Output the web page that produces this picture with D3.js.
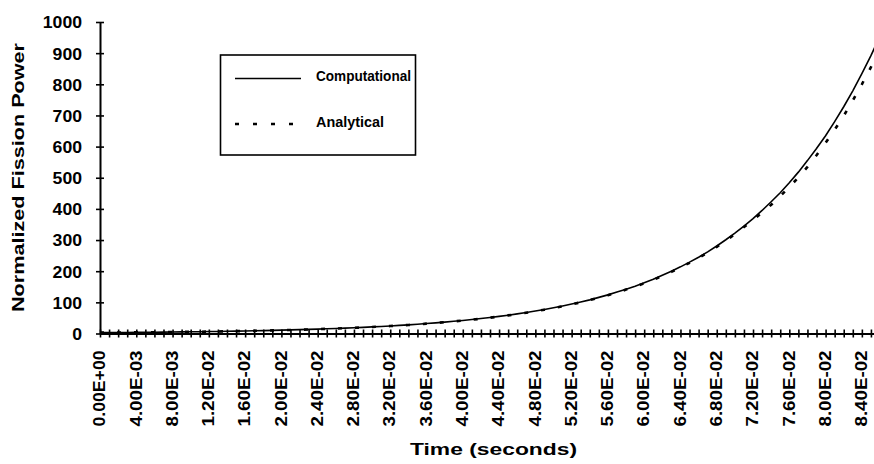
<!DOCTYPE html>
<html>
<head>
<meta charset="utf-8">
<script src="https://cdn.jsdelivr.net/npm/d3@7"></script>
<style>
  body { margin: 0; background: #fff; }
  svg { display: block; font-family: 'Liberation Sans', Arial, sans-serif; font-weight: bold; }
</style>
</head>
<body>
<svg id="chart" width="874" height="464"></svg>
<script>
'use strict';

// one category per millisecond (seconds)
const timeSec = [
    0.000, 0.001, 0.002, 0.003, 0.004, 0.005, 0.006, 0.007, 0.008, 0.009,
    0.010, 0.011, 0.012, 0.013, 0.014, 0.015, 0.016, 0.017, 0.018, 0.019,
    0.020, 0.021, 0.022, 0.023, 0.024, 0.025, 0.026, 0.027, 0.028, 0.029,
    0.030, 0.031, 0.032, 0.033, 0.034, 0.035, 0.036, 0.037, 0.038, 0.039,
    0.040, 0.041, 0.042, 0.043, 0.044, 0.045, 0.046, 0.047, 0.048, 0.049,
    0.050, 0.051, 0.052, 0.053, 0.054, 0.055, 0.056, 0.057, 0.058, 0.059,
    0.060, 0.061, 0.062, 0.063, 0.064, 0.065, 0.066, 0.067, 0.068, 0.069,
    0.070, 0.071, 0.072, 0.073, 0.074, 0.075, 0.076, 0.077, 0.078, 0.079,
    0.080, 0.081, 0.082, 0.083, 0.084, 0.085, 0.086
];

const computational = [
    2.8, 3.0, 3.2, 3.4, 3.7, 3.9, 4.2, 4.5, 4.8, 5.1,
    5.4, 5.8, 6.2, 6.6, 7.1, 7.6, 8.1, 8.7, 9.3, 10.0,
    10.7, 11.5, 12.3, 13.1, 14.1, 15.1, 16.2, 17.3, 18.5, 19.8,
    21.2, 22.7, 24.3, 26.0, 27.8, 29.8, 31.9, 34.1, 36.5, 39.1,
    41.8, 44.7, 47.9, 51.3, 54.9, 58.8, 62.9, 67.4, 72.1, 77.2,
    82.6, 88.4, 94.6, 101, 108, 116, 124, 133, 142, 152,
    163, 174, 187, 200, 214, 229, 245, 262, 281, 301,
    322, 345, 369, 395, 423, 452, 484, 518, 555, 594,
    635, 680, 728, 779, 834, 892, 955
];

const analytical = [
    2.8, 3.0, 3.2, 3.4, 3.6, 3.9, 4.1, 4.4, 4.7, 5.0,
    5.4, 5.7, 6.1, 6.6, 7.0, 7.5, 8.0, 8.6, 9.2, 9.9,
    10.6, 11.4, 12.2, 13.0, 13.9, 14.9, 16.0, 17.1, 18.3, 19.6,
    21.0, 22.5, 24.0, 25.7, 27.5, 29.5, 31.6, 33.8, 36.1, 38.7,
    41.4, 44.3, 47.4, 50.8, 54.4, 58.2, 62.3, 66.7, 71.4, 76.4,
    81.8, 87.5, 93.7, 100, 107, 115, 123, 131, 141, 151,
    161, 172, 185, 198, 212, 227, 243, 260, 278, 298,
    319, 342, 364, 388, 413, 441, 470, 501, 535, 572,
    612, 654, 699, 748, 800, 855, 914
];

const yTicks = [0, 100, 200, 300, 400, 500, 600, 700, 800, 900, 1000];

const xLabelTimes = [
    0.000, 0.004, 0.008, 0.012, 0.016, 0.020, 0.024, 0.028, 0.032, 0.036, 0.040,
    0.044, 0.048, 0.052, 0.056, 0.060, 0.064, 0.068, 0.072, 0.076, 0.080, 0.084
];
const xLabels = [
    '0.00E+00', '4.00E-03', '8.00E-03', '1.20E-02', '1.60E-02', '2.00E-02',
    '2.40E-02', '2.80E-02', '3.20E-02', '3.60E-02', '4.00E-02', '4.40E-02',
    '4.80E-02', '5.20E-02', '5.60E-02', '6.00E-02', '6.40E-02', '6.80E-02',
    '7.20E-02', '7.60E-02', '8.00E-02', '8.40E-02'
];

const seriesNames = ['Computational', 'Analytical'];

const svg = d3.select('#chart');
const fontFamily = "'Liberation Sans', Arial, sans-serif";

const x = d3.scaleLinear().domain([0, 0.086]).range([100, 880]);
const y = d3.scaleLinear().domain([0, 1000]).range([333.5, 22]);

// x axis: cross ticks on every category
let xAxis = svg.append('g')
    .attr('transform', 'translate(0,' + y(0) + ')')
    .call(d3.axisBottom(x).tickValues(timeSec).tickSizeInner(4).tickSizeOuter(0).tickFormat(''));
xAxis.select('.domain').attr('stroke', '#000').attr('stroke-width', 2.2);
xAxis.selectAll('.tick line').attr('y1', -4).attr('y2', 4).attr('stroke', '#000').attr('stroke-width', 1.6);

// x labels, rotated, every 4th category
let xLab = svg.append('g')
    .attr('transform', 'translate(0,' + y(0) + ')')
    .call(d3.axisBottom(x).tickValues(xLabelTimes).tickSize(0)
        .tickFormat(function(d, i) { return xLabels[i]; }));
xLab.select('.domain').remove();
xLab.selectAll('.tick text')
    .attr('transform', 'rotate(-90)')
    .attr('text-anchor', 'end')
    .attr('x', -17)
    .attr('y', -1)
    .attr('dy', '0.36em')
    .attr('font-size', 16)
    .attr('font-family', fontFamily)
    .attr('font-weight', 'bold')
    .attr('fill', '#000')
    .attr('textLength', 76)
    .attr('lengthAdjust', 'spacingAndGlyphs');

// y axis
let yAxis = svg.append('g')
    .attr('transform', 'translate(' + x(0) + ',0)')
    .call(d3.axisLeft(y).tickValues(yTicks).tickSizeInner(4).tickSizeOuter(0).tickFormat(d3.format('d')));
yAxis.select('.domain').attr('stroke', '#000').attr('stroke-width', 2);
yAxis.selectAll('.tick line').attr('x1', -4).attr('x2', 4).attr('stroke', '#000').attr('stroke-width', 1.6);
yAxis.selectAll('.tick text')
    .attr('x', -18)
    .attr('dy', '0.37em')
    .attr('font-size', 16)
    .attr('font-family', fontFamily)
    .attr('font-weight', 'bold')
    .attr('fill', '#000')
    .attr('textLength', function(d) { return String(d).length * 9.8; })
    .attr('lengthAdjust', 'spacingAndGlyphs');

// series
let line = d3.line()
    .x(function(d, i) { return x(timeSec[i]); })
    .y(function(d) { return y(d); });

svg.append('path')
    .datum(analytical)
    .attr('fill', 'none')
    .attr('stroke', '#000')
    .attr('stroke-width', 2.6)
    .attr('stroke-dasharray', '4 13')
    .attr('d', line);

svg.append('path')
    .datum(computational)
    .attr('fill', 'none')
    .attr('stroke', '#000')
    .attr('stroke-width', 1.6)
    .attr('d', line);

// axis titles
svg.append('text')
    .attr('transform', 'translate(24,177.5) rotate(-90)')
    .attr('text-anchor', 'middle')
    .attr('font-size', 17)
    .attr('textLength', 269)
    .attr('lengthAdjust', 'spacingAndGlyphs')
    .text('Normalized Fission Power');

svg.append('text')
    .attr('x', 493.5)
    .attr('y', 455)
    .attr('text-anchor', 'middle')
    .attr('font-size', 17)
    .attr('textLength', 167)
    .attr('lengthAdjust', 'spacingAndGlyphs')
    .text('Time (seconds)');

// legend
let legend = svg.append('g');
legend.append('rect')
    .attr('x', 220.5).attr('y', 55).attr('width', 195).attr('height', 100)
    .attr('fill', '#fff').attr('stroke', '#000').attr('stroke-width', 1.6);
legend.append('line')
    .attr('x1', 235).attr('x2', 301).attr('y1', 78.5).attr('y2', 78.5)
    .attr('stroke', '#000').attr('stroke-width', 1.6);
legend.append('line')
    .attr('x1', 235).attr('x2', 296).attr('y1', 124).attr('y2', 124)
    .attr('stroke', '#000').attr('stroke-width', 2.6).attr('stroke-dasharray', '4 14');
legend.selectAll('text.leg')
    .data(seriesNames)
    .enter().append('text')
    .attr('class', 'leg')
    .attr('x', 316)
    .attr('y', function(d, i) { return i === 0 ? 80.5 : 126.5; })
    .attr('font-size', 15)
    .attr('textLength', function(d, i) { return i === 0 ? 95 : 68; })
    .attr('lengthAdjust', 'spacingAndGlyphs')
    .text(function(d) { return d; });
</script>
</body>
</html>
